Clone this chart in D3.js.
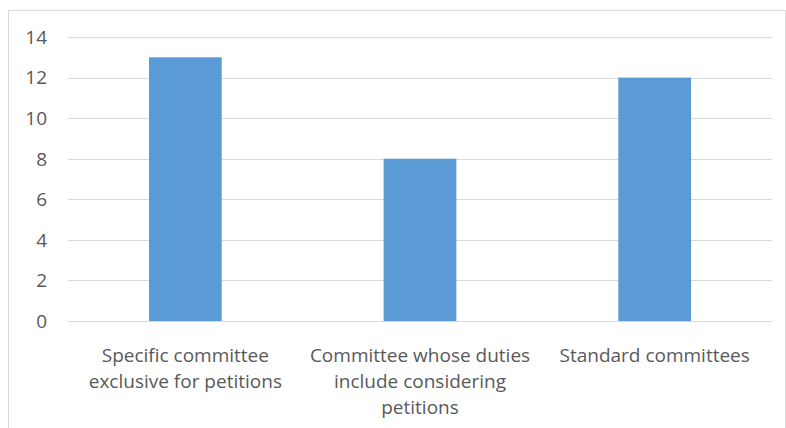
<!DOCTYPE html>
<html lang="en">
<head>
    <meta charset="UTF-8">
    <title>Committees for petitions</title>
    <script src="https://d3js.org/d3.v7.min.js"></script>
    <style>
        body { margin: 0; background: #fff; }
        text { font-family: "Open Sans", sans-serif; fill: #595959; }
    </style>
</head>
<body>
    <svg id="chart" width="786" height="428"></svg>

    <script>
        const categories = [
            "Specific committee exclusive for petitions",
            "Committee whose duties include considering petitions",
            "Standard committees"
        ];
        const values = [13, 8, 12];
        const yTicks = [0, 2, 4, 6, 8, 10, 12, 14];

        const svg = d3.select("#chart"),
            width = +svg.attr("width"),
            height = +svg.attr("height");

        // chart frame
        svg.append("rect")
            .attr("x", 8.5)
            .attr("y", 10.5)
            .attr("width", width - 9)
            .attr("height", height - 10)
            .attr("fill", "none")
            .attr("stroke", "#d9d9d9");

        const x = d3.scaleBand()
            .domain(categories)
            .range([68, 772])
            .paddingInner(0.69)
            .paddingOuter(0.345);

        const y = d3.scaleLinear()
            .domain([0, 14])
            .range([321, 37]);

        // gridlines
        svg.append("g")
            .selectAll("line")
            .data(yTicks)
            .enter().append("line")
            .attr("x1", 68)
            .attr("x2", 772)
            .attr("y1", d => Math.round(y(d)) + 0.5)
            .attr("y2", d => Math.round(y(d)) + 0.5)
            .attr("stroke", "#d9d9d9")
            .attr("stroke-width", 1.2);

        // y labels
        svg.append("g")
            .selectAll("text")
            .data(yTicks)
            .enter().append("text")
            .attr("x", 47)
            .attr("y", d => y(d))
            .attr("dy", "0.36em")
            .attr("text-anchor", "end")
            .style("font-size", "19px")
            .text(d => d);

        // bars
        svg.append("g")
            .selectAll("rect")
            .data(values)
            .enter().append("rect")
            .attr("x", (d, i) => x(categories[i]))
            .attr("width", x.bandwidth())
            .attr("y", d => y(d))
            .attr("height", d => y(0) - y(d))
            .attr("fill", "#5b9bd5");

        // category labels, wrapped to the category width
        const step = x.step();
        const labels = svg.append("g")
            .selectAll("text")
            .data(categories)
            .enter().append("text")
            .attr("text-anchor", "middle")
            .style("font-size", "19px")
            .attr("transform", d => `translate(${x(d) + x.bandwidth() / 2},355)`);

        labels.each(function(d) {
            const t = d3.select(this);
            const words = d.split(" ");
            let line = [], lineNo = 0;
            let tspan = t.append("tspan").attr("x", 0).attr("y", 0).attr("dy", "0.36em");
            words.forEach(w => {
                line.push(w);
                tspan.text(line.join(" "));
                if (tspan.node().getComputedTextLength() > step - 4 && line.length > 1) {
                    line.pop();
                    tspan.text(line.join(" "));
                    line = [w];
                    lineNo++;
                    tspan = t.append("tspan").attr("x", 0).attr("y", lineNo * 26).attr("dy", "0.36em").text(w);
                }
            });
        });
    </script>
</body>
</html>
